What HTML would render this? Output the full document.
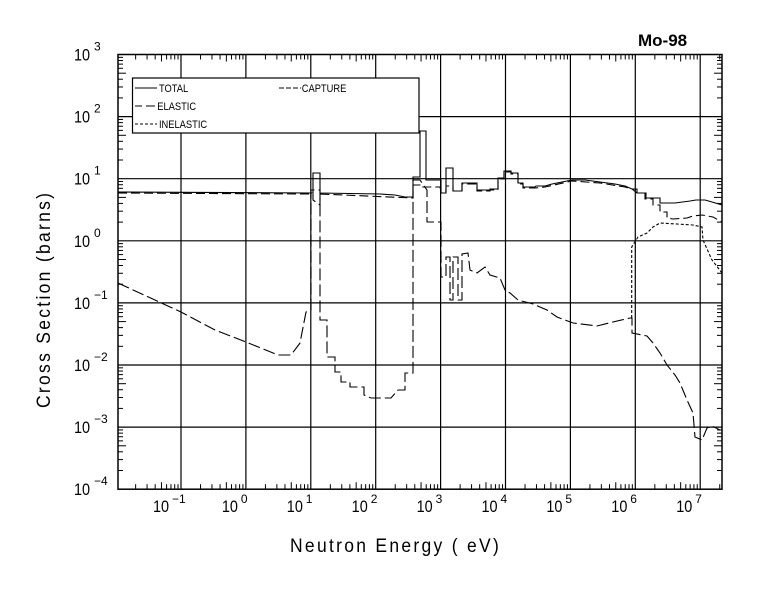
<!DOCTYPE html>
<html><head><meta charset="utf-8"><style>
html,body{margin:0;padding:0;background:#fff;}
svg text{font-family:"Liberation Sans",sans-serif;fill:#000;}
</style></head><body>
<svg id="s" width="780" height="590" xmlns="http://www.w3.org/2000/svg">
<rect width="780" height="590" fill="#fff"/>
<g id="grid" stroke="#000" stroke-width="1.2" fill="none"></g>
<g id="ticks" stroke="#000" stroke-width="1" fill="none"></g>
<rect x="118" y="54.5" width="604" height="434.7" fill="none" stroke="#000" stroke-width="1.5"/>
<rect x="132.5" y="78" width="286.5" height="55" fill="#fff" stroke="#000" stroke-width="1.2"/>
<g stroke="#000" stroke-width="1">
<line x1="135" y1="88" x2="157" y2="88"/>
<line x1="135" y1="106" x2="142" y2="106"/><line x1="146" y1="106" x2="155" y2="106"/>
<line x1="135" y1="124" x2="157" y2="124" stroke-dasharray="3,2"/>
<line x1="279" y1="88" x2="301" y2="88" stroke-dasharray="5,2"/>
</g>
<g font-size="11" transform="scale(0.85,1)">
<text x="187" y="92">TOTAL</text>
<text x="185" y="110">ELASTIC</text>
<text x="187" y="128">INELASTIC</text>
<text x="355" y="92">CAPTURE</text>
</g>
<text x="638" y="46" font-size="17" font-weight="bold">Mo-98</text>
<g id="labels" font-size="15"></g>
<text transform="translate(290,552) scale(0.92,1)" font-size="19" font-weight="300" letter-spacing="2.5">Neutron Energy ( eV)</text>
<text transform="translate(50,408) rotate(-90) scale(0.92,1)" font-size="19" font-weight="300" letter-spacing="2.5">Cross Section (barns)</text>
<g fill="none" stroke="#000" stroke-width="1.1">
<polyline points="118,192 313,193 313,173 320,173 320,193 380,194 395,195 405,197 413,197 413,177 420,177 420,131 426,131 426,180 441,180 441,193 446,193 446,168 453,168 453,191 462,191 462,183 477,183 477,190 490,190 490,189 498,189 498,178 504,178 504,171 511,171 511,173 518,173 518,183 523,183 523,187 535,187 536,186 545,186 552,184 562,182 572,180 585,180 600,182 615,184 625,186 632,189 637,189 637,193 646,193 646,198 660,198 660,203 675,203 690,201 696,200 705,200 712,202 722,205"/>
<polyline stroke-dasharray="9,4" points="118,193 313,194 313,200 320,205 320,194 413,198 413,185 420,185 420,187 440,187 441,191 446,191 446,186 453,186 453,191 462,191 462,184 477,184 477,191 490,191 490,190 498,190 498,179 504,179 504,172 511,172 511,174 518,174 518,184 523,184 523,188 535,188 545,187 572,181 600,183 625,187 632,189 637,193 645,193 645,199 653,199 653,205 660,205 660,212 667,212 667,218 673,219 687,218 693,216 702,215 713,217 722,222"/>
<polyline stroke-dasharray="12,4" points="118,283 181,312 215,330 246,342 278,355 291,355 300,343 306,312 311,310 311,190 320,190 320,320 327,320 327,357 335,357 335,372 341,372 341,382 350,382 350,387 364,387 364,395 371,398 391,398 398,390 405,390 405,373 413,373 413,180 420,180 427,190 427,222 441,222 441,277 446,277 446,257 450,257 450,300 453,300 453,257 458,257 458,300 462,300 462,254 468,253 470,270 477,273 485,267 490,275 500,278 505,290 510,293 518,300 533,304 547,310 557,317 573,323 597,326 613,322 630,318 632,318 632,333 647,336 653,343 660,353 667,365 675,375 680,383 687,400 693,413 695,437 702,440 707,428 712,426 720,430"/>
<polyline stroke-dasharray="3,2" points="631.7,318 631.7,247 638,237 647,233 653,227 660,223 693,225 702,227 703,240 712,260 722,273"/>
</g>
</svg>
<script>
(function(){
var NS="http://www.w3.org/2000/svg";
function X(l){return 181+(l+1)*64.9;}
function Y(l){return 54.5+(3-l)*62.1;}
var g=document.getElementById('grid'),t=document.getElementById('ticks'),lb=document.getElementById('labels');
function line(p,x1,y1,x2,y2){var e=document.createElementNS(NS,'line');e.setAttribute('x1',x1);e.setAttribute('y1',y1);e.setAttribute('x2',x2);e.setAttribute('y2',y2);p.appendChild(e);}
function txt(x,y,s,sz){var e=document.createElementNS(NS,'text');e.setAttribute('x',x);e.setAttribute('y',y);e.setAttribute('font-size',sz);e.setAttribute('font-weight','300');e.textContent=s;lb.appendChild(e);return e;}
for(var d=-1;d<=7;d++){var x=X(d);line(g,x,54.5,x,489.2);
 var tx=x-24+(d<0?-4:0);var a=txt(tx,512,'10',17);a.setAttribute('transform','translate('+tx+',0) scale(0.85,1) translate('+(-tx)+',0)');txt(tx+19,503,String(d).replace('-','\u2212'),12);}
for(var d=-2;d<=7;d++){for(var k=2;k<10;k++){var x=X(d+Math.log10(k));if(x<=118||x>=722)continue;var L=(k==5?7:5);line(t,x,489.2,x,489.2-L);line(t,x,54.5,x,54.5+L);}}
for(var d=-4;d<=3;d++){var y=Y(d);if(d>-4&&d<3)line(g,118,y,722,y);
 var a=txt(74,y+6,'10',17);a.setAttribute('transform','translate(74,0) scale(0.85,1) translate(-74,0)');txt(94,y-4,String(d).replace('-','\u2212'),12);
 if(d<3)for(var k=2;k<10;k++){var yy=Y(d+Math.log10(k));var L=(k==5?8:5);line(t,118,yy,118+L,yy);line(t,722,yy,722-L,yy);}}
})();
</script>
</body></html>
